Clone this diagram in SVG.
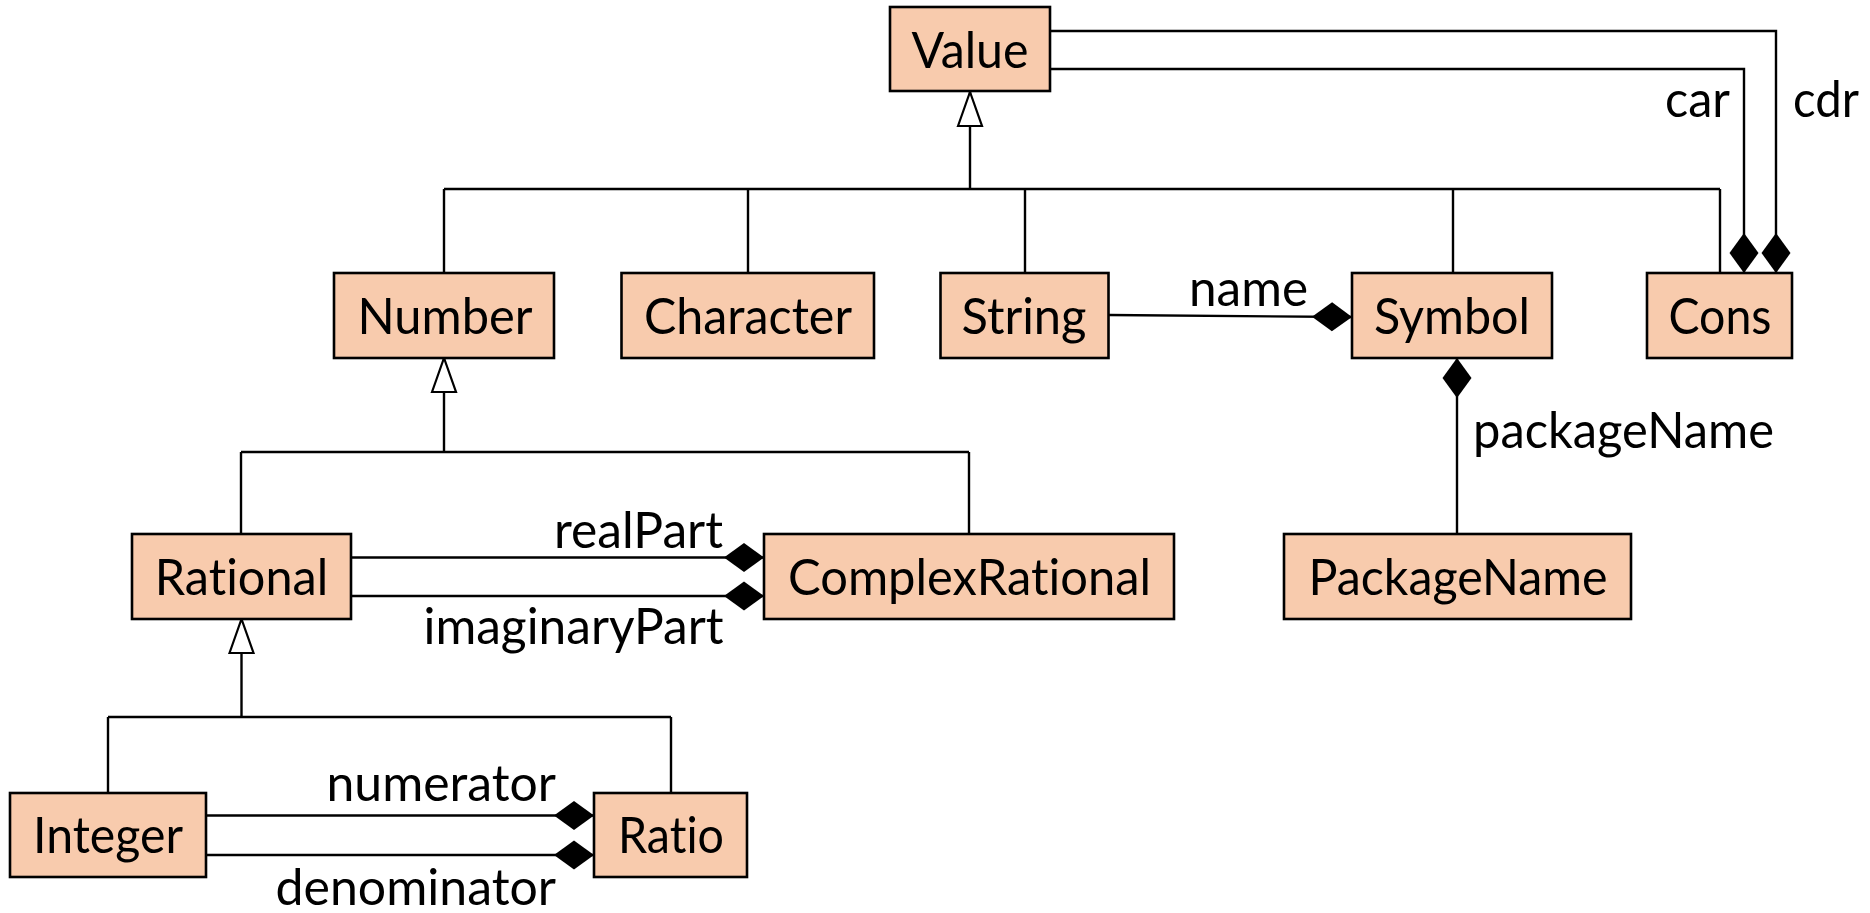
<svg xmlns="http://www.w3.org/2000/svg" width="1870" height="913" viewBox="0 0 1870 913">
  <defs>
    <!-- filled diamond: composition end -->
    <marker id="diamond" markerUnits="userSpaceOnUse" orient="auto" refX="40" refY="0" markerWidth="44" markerHeight="32" overflow="visible">
      <path d="M0,0 L20,-14.5 L40,0 L20,14.5 Z" fill="#000" stroke="none"/>
    </marker>
    <!-- hollow triangle: generalization end -->
    <marker id="tri" markerUnits="userSpaceOnUse" orient="auto" refX="34" refY="0" markerWidth="40" markerHeight="30" overflow="visible">
      <path d="M0,-12 L34,0 L0,12 Z" fill="#fff" stroke="#000" stroke-width="2.2" stroke-linejoin="miter"/>
    </marker>
    <style>
      .box { fill: #F8CBAD; stroke: #000; stroke-width: 2.6; }
      .name { font-family: Lato, "Open Sans", sans-serif; font-size: 50px; fill: #000; text-anchor: middle; font-variant-ligatures: none; }
      .lbl { font-family: Lato, "Open Sans", sans-serif; font-size: 50px; fill: #000; font-variant-ligatures: none; }
      .ln { fill: none; stroke: #000; stroke-width: 2.4; }
    </style>
  </defs>

  <!-- connectors -->
  <g id="connectors">
    <!-- Value hierarchy -->
    <path class="ln" d="M970,189 V92" marker-end="url(#tri)"/>
    <path class="ln" d="M444,189 H1720"/>
    <path class="ln" d="M444,189 V273"/>
    <path class="ln" d="M748,189 V273"/>
    <path class="ln" d="M1025,189 V273"/>
    <path class="ln" d="M1453,189 V273"/>
    <path class="ln" d="M1720,189 V273"/>

    <!-- Cons car / cdr -->
    <path class="ln" d="M1050,69 H1744 V273" marker-end="url(#diamond)"/>
    <path class="ln" d="M1050,31 H1776 V273" marker-end="url(#diamond)"/>

    <!-- Symbol name / packageName -->
    <path class="ln" d="M1109,315 L1352,317" marker-end="url(#diamond)"/>
    <path class="ln" d="M1457,534 V358" marker-end="url(#diamond)"/>

    <!-- Number hierarchy -->
    <path class="ln" d="M444,452 V358" marker-end="url(#tri)"/>
    <path class="ln" d="M241,452 H969"/>
    <path class="ln" d="M241,452 V534"/>
    <path class="ln" d="M969,452 V534"/>

    <!-- ComplexRational parts -->
    <path class="ln" d="M351,557.5 H764" marker-end="url(#diamond)"/>
    <path class="ln" d="M351,596 H764" marker-end="url(#diamond)"/>

    <!-- Rational hierarchy -->
    <path class="ln" d="M241.5,717 V619" marker-end="url(#tri)"/>
    <path class="ln" d="M108,717 H671"/>
    <path class="ln" d="M108,717 V793"/>
    <path class="ln" d="M671,717 V793"/>

    <!-- Ratio parts -->
    <path class="ln" d="M206,815.5 H594" marker-end="url(#diamond)"/>
    <path class="ln" d="M206,855 H594" marker-end="url(#diamond)"/>

    <!-- role labels -->
    <text class="lbl" x="1665" y="117" textLength="65" lengthAdjust="spacingAndGlyphs">car</text>
    <text class="lbl" x="1793" y="117" textLength="66" lengthAdjust="spacingAndGlyphs">cdr</text>
    <text class="lbl" x="1189" y="306" textLength="119" lengthAdjust="spacingAndGlyphs">name</text>
    <text class="lbl" x="1473" y="448" textLength="301" lengthAdjust="spacingAndGlyphs">packageName</text>
    <text class="lbl" x="554" y="548" textLength="169" lengthAdjust="spacingAndGlyphs">realPart</text>
    <text class="lbl" x="423.5" y="644" textLength="300" lengthAdjust="spacingAndGlyphs">imaginaryPart</text>
    <text class="lbl" x="326.5" y="801" textLength="229.5" lengthAdjust="spacingAndGlyphs">numerator</text>
    <text class="lbl" x="275.5" y="905" textLength="280.5" lengthAdjust="spacingAndGlyphs">denominator</text>
  </g>

  <!-- classes -->
  <g id="Value">
    <rect class="box" x="890" y="7" width="160" height="84"/>
    <text class="name" x="970" y="68" textLength="117" lengthAdjust="spacingAndGlyphs">Value</text>
  </g>
  <g id="Number">
    <rect class="box" x="334" y="273" width="220" height="85"/>
    <text class="name" x="445" y="334" textLength="175" lengthAdjust="spacingAndGlyphs">Number</text>
  </g>
  <g id="Character">
    <rect class="box" x="621.5" y="273" width="252.5" height="85"/>
    <text class="name" x="748" y="334" textLength="208" lengthAdjust="spacingAndGlyphs">Character</text>
  </g>
  <g id="String">
    <rect class="box" x="940.5" y="273" width="168" height="85"/>
    <text class="name" x="1024" y="334" textLength="125" lengthAdjust="spacingAndGlyphs">String</text>
  </g>
  <g id="Symbol">
    <rect class="box" x="1352" y="273" width="200" height="85"/>
    <text class="name" x="1452" y="334" textLength="156" lengthAdjust="spacingAndGlyphs">Symbol</text>
  </g>
  <g id="Cons">
    <rect class="box" x="1647" y="273" width="145" height="85"/>
    <text class="name" x="1720" y="334" textLength="103" lengthAdjust="spacingAndGlyphs">Cons</text>
  </g>
  <g id="Rational">
    <rect class="box" x="132" y="534" width="219" height="85"/>
    <text class="name" x="241.5" y="595" textLength="173.5" lengthAdjust="spacingAndGlyphs">Rational</text>
  </g>
  <g id="ComplexRational">
    <rect class="box" x="764" y="534" width="410" height="85"/>
    <text class="name" x="969.5" y="595" textLength="363" lengthAdjust="spacingAndGlyphs">ComplexRational</text>
  </g>
  <g id="PackageName">
    <rect class="box" x="1284" y="534" width="347" height="85"/>
    <text class="name" x="1458" y="595" textLength="299" lengthAdjust="spacingAndGlyphs">PackageName</text>
  </g>
  <g id="Integer">
    <rect class="box" x="10" y="793" width="196" height="84"/>
    <text class="name" x="108" y="853" textLength="150" lengthAdjust="spacingAndGlyphs">Integer</text>
  </g>
  <g id="Ratio">
    <rect class="box" x="594" y="793" width="153" height="84"/>
    <text class="name" x="671" y="853" textLength="106" lengthAdjust="spacingAndGlyphs">Ratio</text>
  </g>
</svg>
